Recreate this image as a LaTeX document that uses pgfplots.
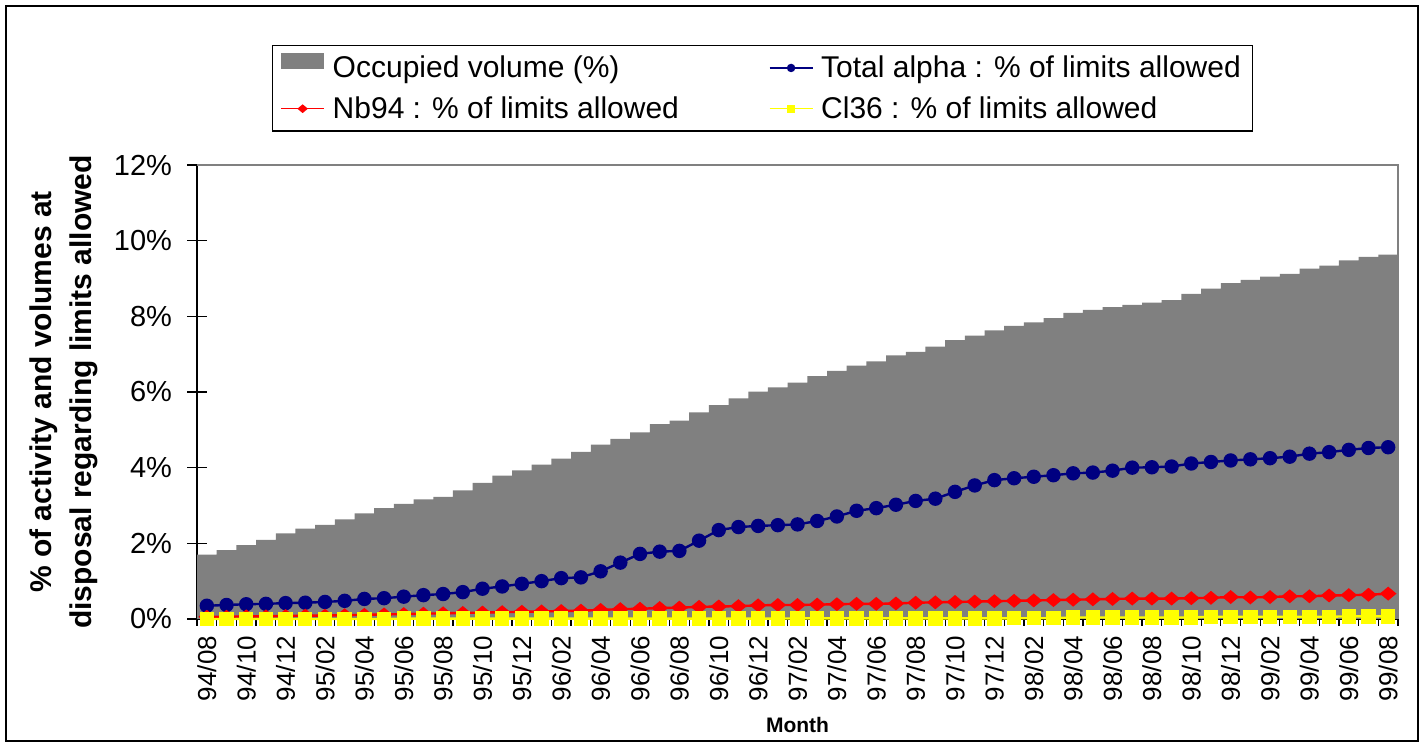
\documentclass[border=0pt]{standalone}
\usepackage{pgfplots}
\usepackage{pgfplotstable}
\pgfplotsset{compat=1.18}
\usepackage{fontspec}
\setmainfont{Liberation Sans}
\definecolor{volgray}{HTML}{808080}
\definecolor{xlnavy}{HTML}{000080}
\definecolor{xlred}{HTML}{FF0000}
\definecolor{xlyellow}{HTML}{FFFF00}

\pgfplotstableread{
x vol alpha nb cl
1 1.70 0.35 0.06 0.00
2 1.82 0.37 0.06 0.00
3 1.95 0.39 0.07 0.00
4 2.09 0.40 0.07 0.00
5 2.26 0.42 0.08 0.00
6 2.39 0.43 0.09 0.00
7 2.49 0.45 0.09 0.00
8 2.63 0.48 0.10 0.00
9 2.79 0.53 0.11 0.00
10 2.93 0.55 0.12 0.00
11 3.04 0.59 0.13 0.01
12 3.16 0.63 0.14 0.01
13 3.23 0.66 0.15 0.01
14 3.40 0.71 0.16 0.01
15 3.60 0.80 0.17 0.01
16 3.79 0.86 0.18 0.01
17 3.93 0.93 0.19 0.01
18 4.08 1.00 0.20 0.01
19 4.24 1.08 0.21 0.01
20 4.42 1.10 0.22 0.01
21 4.61 1.26 0.24 0.01
22 4.76 1.49 0.26 0.01
23 4.93 1.72 0.27 0.01
24 5.15 1.78 0.29 0.01
25 5.24 1.80 0.30 0.01
26 5.46 2.07 0.32 0.01
27 5.65 2.35 0.33 0.01
28 5.83 2.43 0.34 0.01
29 6.01 2.46 0.36 0.01
30 6.12 2.48 0.37 0.01
31 6.25 2.50 0.37 0.015
32 6.42 2.59 0.38 0.015
33 6.56 2.71 0.39 0.015
34 6.70 2.86 0.40 0.015
35 6.81 2.93 0.40 0.015
36 6.97 3.02 0.41 0.015
37 7.06 3.12 0.43 0.015
38 7.20 3.18 0.44 0.015
39 7.37 3.36 0.45 0.015
40 7.49 3.53 0.46 0.015
41 7.63 3.67 0.47 0.015
42 7.75 3.72 0.48 0.02
43 7.84 3.76 0.49 0.02
44 7.95 3.80 0.50 0.02
45 8.09 3.85 0.51 0.04
46 8.17 3.87 0.52 0.04
47 8.24 3.92 0.53 0.04
48 8.30 4.00 0.54 0.04
49 8.36 4.01 0.54 0.04
50 8.43 4.03 0.54 0.04
51 8.59 4.11 0.55 0.04
52 8.73 4.15 0.56 0.06
53 8.88 4.19 0.58 0.06
54 8.96 4.22 0.57 0.06
55 9.05 4.25 0.58 0.06
56 9.12 4.29 0.60 0.06
57 9.26 4.37 0.60 0.06
58 9.34 4.41 0.62 0.06
59 9.48 4.47 0.63 0.07
60 9.57 4.52 0.64 0.07
61 9.63 4.54 0.67 0.07
}\datatable

\begin{document}
\begin{tikzpicture}
\useasboundingbox (0,0) rectangle (711.5pt,373.5pt);
\draw[black, line width=0.6pt] (3pt,3pt) rectangle (709pt,370.5pt);
\begin{axis}[
  at={(98.5pt,64pt)}, anchor=south west,
  width=600.5pt, height=227pt, scale only axis,
  xmin=0.5, xmax=61.5, ymin=0, ymax=12,
  axis x line*=bottom, axis y line*=left,
  axis line style={-, black, line width=0.6pt},
  xtick={1,3,...,61},
  xticklabels={94/08,94/10,94/12,95/02,95/04,95/06,95/08,95/10,95/12,96/02,96/04,96/06,96/08,96/10,96/12,97/02,97/04,97/06,97/08,97/10,97/12,98/02,98/04,98/06,98/08,98/10,98/12,99/02,99/04,99/06,99/08},
  major x tick style={draw=none},
  minor xtick={0.5,1.5,...,61.5},
  minor tick length=7pt,
  ytick={0,2,4,6,8,10,12},
  yticklabels={0\%,2\%,4\%,6\%,8\%,10\%,12\%},
  major tick length=10pt,
  tick align=center,
  tick style={black, line width=0.6pt},
  xticklabel style={rotate=90, anchor=east, font=\fontsize{13}{15}\selectfont},
  yticklabel style={font=\fontsize{14.5}{17}\selectfont, xshift=-4pt},
  ylabel={\% of activity and volumes at\\disposal regarding limits allowed},
  ylabel style={align=center, font=\bfseries\fontsize{15}{20}\selectfont, at={(axis description cs:-0.1107,0.5)}, anchor=center},
  xlabel={Month},
  xlabel style={font=\bfseries\fontsize{10.5}{12}\selectfont, at={(axis description cs:0.5,-0.2335)}, anchor=center},
  clip=false,
  legend columns=2,
  legend cell align=left,
  legend image code/.code={\draw[mark repeat=2,mark phase=2,#1,line width=0.6pt,mark size=1.8pt] plot coordinates {(0pt,0pt) (10.75pt,0pt) (21.5pt,0pt)};},
  legend style={at={(axis description cs:0.0624,1.2643)}, anchor=north west, draw=black, line width=0.6pt, fill=white,
    font=\fontsize{15}{18}\selectfont, inner xsep=4pt, inner ysep=3pt, row sep=4pt,
    /tikz/every odd column/.append style={column sep=2pt},
    /tikz/every even column/.append style={column sep=43pt}},
]
\addplot[ybar, bar width=1, fill=volgray, draw=none,
  legend image code/.code={\fill[volgray] (0pt,-0.1ex) rectangle (21.5pt,1.45ex);}]
  table[x=x,y=vol] {\datatable};
\addlegendentry{Occupied volume (\%)}
\addplot[xlnavy, line width=1.2pt, mark=*, mark size=3pt, mark options={fill=xlnavy, draw=xlnavy}]
  table[x=x,y=alpha] {\datatable};
\addlegendentry{Total alpha : \% of limits allowed}
\addplot[xlred, line width=1.2pt, mark=diamond*, mark size=2.7pt, mark options={xscale=1.6, fill=xlred, draw=xlred}]
  table[x=x,y=nb] {\datatable};
\addlegendentry{Nb94 : \% of limits allowed}
\addplot[xlyellow, line width=1.2pt, mark=square*, mark size=3pt, mark options={fill=xlyellow, draw=xlyellow}]
  table[x=x,y=cl] {\datatable};
\addlegendentry{Cl36 : \% of limits allowed}
\draw[volgray, line width=0.6pt] (rel axis cs:0,1) -- (rel axis cs:1,1) -- (rel axis cs:1,0);
\end{axis}
\end{tikzpicture}
\end{document}
